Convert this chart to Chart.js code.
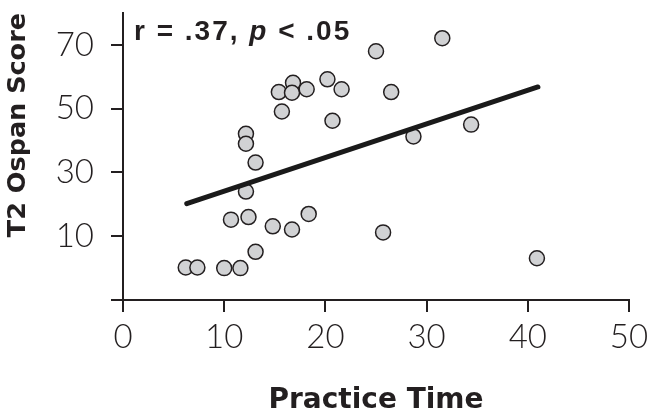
<!DOCTYPE html>
<html>
<head>
<meta charset="utf-8">
<script src="https://cdn.jsdelivr.net/npm/chart.js@4.4.0/dist/chart.umd.min.js"></script>
<style>
  html, body { margin: 0; padding: 0; background: #fff; }
</style>
</head>
<body>
<canvas id="chart" width="659" height="415"></canvas>
<script>
// values
const practiceTime = [25.0, 15.4, 16.8, 16.7, 18.15, 20.2, 21.6, 26.5, 15.7, 20.7,
  12.15, 12.15, 13.1, 31.55, 28.7, 34.4, 12.15, 10.67, 12.4, 14.8,
  16.7, 18.35, 25.7, 13.1, 6.2, 7.35, 10.0, 11.6, 40.9];
const ospanScore = [68.0, 55.2, 58.1, 55.0, 56.1, 59.2, 56.1, 55.2, 49.1, 46.2,
  42.1, 39.0, 33.1, 72.1, 41.3, 45.0, 24.0, 15.2, 16.0, 13.1,
  12.1, 17.0, 11.2, 5.1, 0.2, 0.2, 0.0, 0.0, 3.1];
const fitX = [6.3, 41.0];
const fitY = [20.2, 56.8];
const yTickValues = [-10, 10, 30, 50, 70];

const ink = "#231f20";

// stats note in the top left corner
const statsNote = {
  id: "statsNote",
  afterDraw(chart) {
    const c = chart.ctx;
    c.save();
    c.fillStyle = ink;
    c.textBaseline = "alphabetic";
    c.letterSpacing = "2px";
    let x = chart.chartArea.left + 11;
    const y = 40;
    c.font = 'bold 28px "Liberation Sans", Arial, sans-serif';
    c.fillText("r = .37, ", x, y);
    x += c.measureText("r = .37, ").width;
    c.font = 'italic bold 28px "Liberation Sans", Arial, sans-serif';
    c.fillText("p", x, y);
    x += c.measureText("p").width;
    c.font = 'bold 28px "Liberation Sans", Arial, sans-serif';
    c.fillText(" < .05", x, y);
    c.restore();
  }
};

const axisGrid = {
  drawOnChartArea: false,
  drawTicks: true,
  tickLength: 12,
  color: ink,
  lineWidth: 2
};

new Chart(document.getElementById("chart"), {
  type: "scatter",
  data: {
    datasets: [
      {
        type: "line",
        data: fitX.map((x, i) => ({ x: x, y: fitY[i] })),
        borderColor: "#1a1a1a",
        borderWidth: 5,
        borderCapStyle: "round",
        pointRadius: 0,
        fill: false,
        order: 0
      },
      {
        data: practiceTime.map((x, i) => ({ x: x, y: ospanScore[i] })),
        backgroundColor: "#d1d2d4",
        borderColor: ink,
        borderWidth: 1.5,
        pointRadius: 7.5,
        order: 1
      }
    ]
  },
  options: {
    responsive: false,
    animation: false,
    devicePixelRatio: 1,
    layout: { padding: { top: 13, right: 30, left: 0, bottom: 0 } },
    plugins: {
      legend: { display: false },
      tooltip: { enabled: false }
    },
    scales: {
      x: {
        type: "linear",
        min: 0,
        max: 50,
        ticks: {
          stepSize: 10,
          color: ink,
          padding: 6,
          font: { family: "Lato", size: 33, weight: "300" }
        },
        grid: axisGrid,
        border: { color: ink, width: 2 },
        title: {
          display: true,
          text: "Practice Time",
          color: ink,
          padding: { top: 0, bottom: -3 },
          font: { family: "DejaVu Sans", size: 28, weight: "bold" }
        },
        afterFit(scale) { scale.height = 115; }
      },
      y: {
        min: -10,
        max: 80,
        afterBuildTicks(scale) {
          scale.ticks = yTickValues.map(v => ({ value: v }));
        },
        ticks: {
          color: ink,
          padding: 17,
          font: { family: "Lato", size: 33, weight: "300" },
          callback: v => (v === -10 ? "" : v)
        },
        grid: axisGrid,
        border: { color: ink, width: 2 },
        title: {
          display: true,
          text: "T2 Ospan Score",
          align: "end",
          color: ink,
          padding: 3,
          font: { family: "DejaVu Sans", size: 25.5, weight: "bold" }
        },
        afterFit(scale) {
          scale.width = 123;
          scale.paddingTop = 0;
          scale.paddingBottom = 0;
        }
      }
    }
  },
  plugins: [statsNote]
});
</script>
</body>
</html>
